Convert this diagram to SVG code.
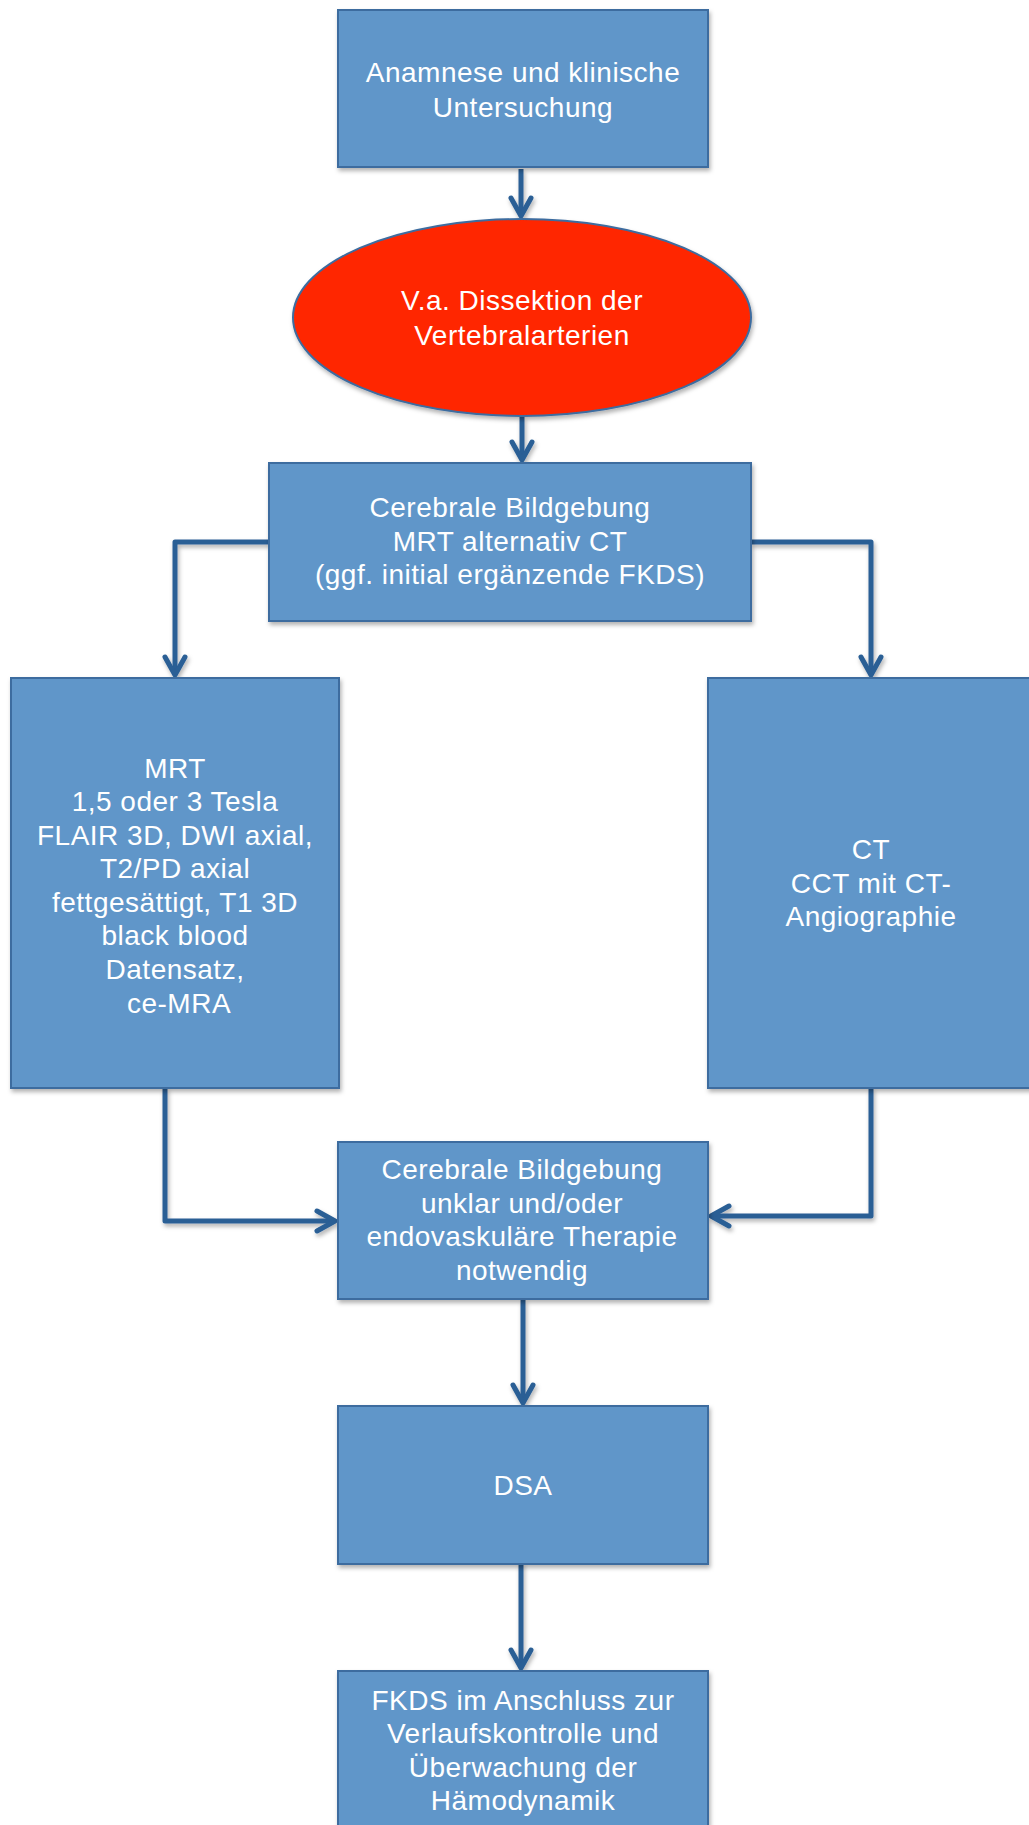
<svg xmlns="http://www.w3.org/2000/svg" width="1029" height="1825" viewBox="0 0 1029 1825">
<style>
.box{fill:#6096C9;stroke:#3D6C9F;stroke-width:2;filter:url(#sh)}
.ell{fill:#FF2600;stroke:#3D6C9F;stroke-width:2;filter:url(#sh)}
.t{font-family:"Liberation Sans",Arial,sans-serif;font-size:28px;letter-spacing:0.5px;fill:#FFFFFF;text-anchor:middle}
.c{fill:none;stroke:#2A5E95;stroke-width:5;stroke-linejoin:round;marker-end:url(#ah)}
</style>
<defs>
<filter id="sh" x="-10%" y="-10%" width="120%" height="130%">
<feDropShadow dx="1.5" dy="3" stdDeviation="2" flood-color="#000" flood-opacity="0.3"/>
</filter>
<filter id="shc" filterUnits="userSpaceOnUse" x="0" y="0" width="1029" height="1825">
<feDropShadow dx="1.5" dy="3" stdDeviation="2" flood-color="#000" flood-opacity="0.3"/>
</filter>
<marker id="ah" viewBox="-24 -14 28 28" refX="0" refY="0" markerWidth="28" markerHeight="28" markerUnits="userSpaceOnUse" orient="auto">
<path d="M-18,-10 L0,0 L-18,10" fill="none" stroke="#2A5E95" stroke-width="5" stroke-linecap="round" stroke-linejoin="round"/>
</marker>
</defs>
<rect width="1029" height="1825" fill="#FFFFFF"/>
<g id="connectors" filter="url(#shc)">
<path class="c" d="M521,169 L521,216"/>
<path class="c" d="M522,417 L522,460"/>
<path class="c" d="M269,542 L175,542 L175,675"/>
<path class="c" d="M751,542 L871,542 L871,675"/>
<path class="c" d="M165,1088 L165,1221 L335,1221"/>
<path class="c" d="M871,1088 L871,1216 L711,1216"/>
<path class="c" d="M523,1300 L523,1403"/>
<path class="c" d="M521,1563 L521,1668"/>
</g>
<g id="n1">
<rect class="box" x="338" y="10" width="370" height="157"/>
<text class="t" x="523" y="82">Anamnese und klinische</text>
<text class="t" x="523" y="117">Untersuchung</text>
</g>
<g id="n2">
<ellipse class="ell" cx="522" cy="317.5" rx="229" ry="98.5"/>
<text class="t" x="522" y="310">V.a. Dissektion der</text>
<text class="t" x="522" y="345">Vertebralarterien</text>
</g>
<g id="n3">
<rect class="box" x="269" y="463" width="482" height="158"/>
<text class="t" x="510" y="517">Cerebrale Bildgebung</text>
<text class="t" x="510" y="551">MRT alternativ CT</text>
<text class="t" x="510" y="584">(ggf. initial ergänzende FKDS)</text>
</g>
<g id="n4">
<rect class="box" x="11" y="678" width="328" height="410"/>
<text class="t" x="175" y="778">MRT</text>
<text class="t" x="175" y="811">1,5 oder 3 Tesla</text>
<text class="t" x="175" y="845">FLAIR 3D, DWI axial,</text>
<text class="t" x="175" y="878">T2/PD axial</text>
<text class="t" x="175" y="912">fettgesättigt, T1 3D</text>
<text class="t" x="175" y="945">black blood</text>
<text class="t" x="175" y="979">Datensatz,</text>
<text class="t" x="179" y="1013">ce-MRA</text>
</g>
<g id="n5">
<rect class="box" x="708" y="678" width="330" height="410"/>
<text class="t" x="871" y="859">CT</text>
<text class="t" x="871" y="893">CCT mit CT-</text>
<text class="t" x="871" y="926">Angiographie</text>
</g>
<g id="n6">
<rect class="box" x="338" y="1142" width="370" height="157"/>
<text class="t" x="522" y="1179">Cerebrale Bildgebung</text>
<text class="t" x="522" y="1213">unklar und/oder</text>
<text class="t" x="522" y="1246">endovaskuläre Therapie</text>
<text class="t" x="522" y="1280">notwendig</text>
</g>
<g id="n7">
<rect class="box" x="338" y="1406" width="370" height="158"/>
<text class="t" x="523" y="1495">DSA</text>
</g>
<g id="n8">
<rect class="box" x="338" y="1671" width="370" height="170"/>
<text class="t" x="523" y="1710">FKDS im Anschluss zur</text>
<text class="t" x="523" y="1743">Verlaufskontrolle und</text>
<text class="t" x="523" y="1777">Überwachung der</text>
<text class="t" x="523" y="1810">Hämodynamik</text>
</g>
</svg>
